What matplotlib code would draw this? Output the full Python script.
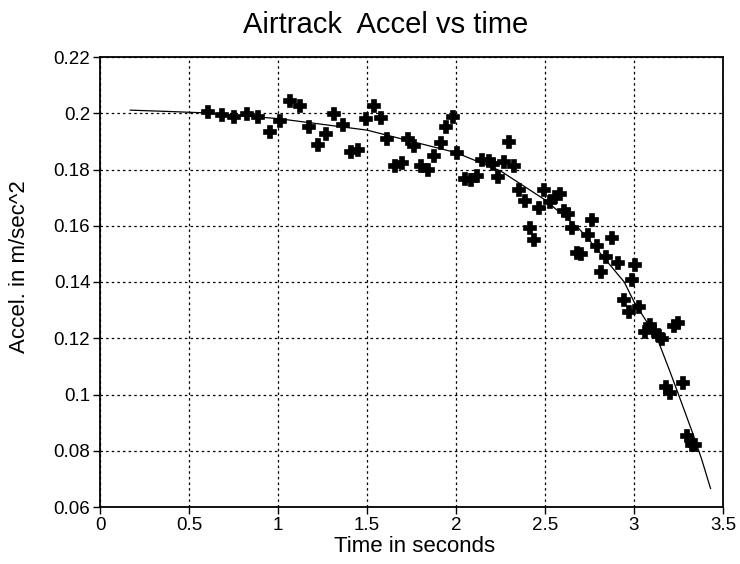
import matplotlib
matplotlib.use("Agg")
import matplotlib.pyplot as plt
from matplotlib.ticker import FixedLocator, FixedFormatter

plt.rcParams['font.family'] = ['Liberation Sans', 'DejaVu Sans']

# Measured data (time in s, acceleration in m/s^2)
time_s = [0.607, 0.687, 0.753, 0.825, 0.889, 0.953, 1.009, 1.069, 1.121, 1.172,
          1.224, 1.269, 1.317, 1.367, 1.408, 1.452, 1.494, 1.539, 1.578, 1.614,
          1.660, 1.695, 1.732, 1.765, 1.803, 1.840, 1.875, 1.915, 1.944, 1.985,
          2.007, 2.051, 2.086, 2.117, 2.147, 2.183, 2.210, 2.238, 2.269, 2.295,
          2.327, 2.353, 2.386, 2.417, 2.438, 2.465, 2.497, 2.529, 2.557, 2.585,
          2.604, 2.632, 2.654, 2.680, 2.700, 2.739, 2.764, 2.792, 2.814, 2.843,
          2.876, 2.911, 2.942, 2.970, 2.987, 3.007, 3.029, 3.064, 3.090, 3.113,
          3.138, 3.157, 3.226, 3.246, 3.179, 3.204, 3.276, 3.296, 3.328, 3.345]
accel = [0.2006, 0.1993, 0.1986, 0.1998, 0.1985, 0.1933, 0.1974, 0.2045, 0.2026, 0.1952,
         0.1887, 0.1928, 0.1999, 0.1957, 0.1864, 0.1868, 0.1980, 0.2027, 0.1984, 0.1909,
         0.1812, 0.1823, 0.1907, 0.1882, 0.1811, 0.1799, 0.1849, 0.1896, 0.1950, 0.1986,
         0.1858, 0.1765, 0.1762, 0.1776, 0.1833, 0.1830, 0.1820, 0.1775, 0.1825, 0.1899,
         0.1813, 0.1728, 0.1687, 0.1591, 0.1549, 0.1664, 0.1728, 0.1683, 0.1701, 0.1712,
         0.1654, 0.1643, 0.1591, 0.1503, 0.1500, 0.1568, 0.1621, 0.1528, 0.1436, 0.1490,
         0.1556, 0.1469, 0.1335, 0.1293, 0.1407, 0.1461, 0.1312, 0.1222, 0.1246, 0.1227,
         0.1208, 0.1198, 0.1244, 0.1254, 0.1027, 0.1007, 0.1041, 0.0852, 0.0819, 0.0822]

# Fitted curve
fit_t = [0.17, 0.40, 0.60, 1.00, 1.50, 2.00, 2.25, 2.50, 2.69, 2.75,
         2.945, 3.00, 3.13, 3.20, 3.25, 3.33, 3.38, 3.43]
fit_a = [0.2011, 0.2006, 0.2001, 0.1981, 0.1940, 0.1860, 0.1795, 0.1692, 0.1590, 0.1548,
         0.1400, 0.1330, 0.1200, 0.1085, 0.1000, 0.0862, 0.0770, 0.0666]

x_ticks = [0, 0.5, 1, 1.5, 2, 2.5, 3, 3.5]
x_labels = ['0', '0.5', '1', '1.5', '2', '2.5', '3', '3.5']
y_ticks = [0.06, 0.08, 0.1, 0.12, 0.14, 0.16, 0.18, 0.2, 0.22]
y_labels = ['0.06', '0.08', '0.1', '0.12', '0.14', '0.16', '0.18', '0.2', '0.22']

fig = plt.figure(figsize=(7.4, 5.64), dpi=100)
ax = fig.add_axes([100/740, 1-507/564, 623/740, 450/564])

ax.plot(fit_t, fit_a, color='black', lw=0.9, zorder=3)
ax.plot(time_s, accel, linestyle='none', marker='P', markersize=8.5,
        color='black', markeredgecolor='black', markeredgewidth=1.2, zorder=4)

ax.set_xlim(0, 3.5)
ax.set_ylim(0.06, 0.22)
ax.xaxis.set_major_locator(FixedLocator(x_ticks))
ax.xaxis.set_major_formatter(FixedFormatter(x_labels))
ax.yaxis.set_major_locator(FixedLocator(y_ticks))
ax.yaxis.set_major_formatter(FixedFormatter(y_labels))

ax.grid(True, color='black', linestyle=(0, (2, 2.5)), linewidth=0.9)
ax.set_axisbelow(True)
for s in ax.spines.values():
    s.set_linewidth(1.3)
    s.set_color('black')
ax.tick_params(direction='out', length=5, width=1, labelsize=13.5, pad=2, colors='black')

fig.text(386/740, 1-25/564, 'Airtrack  Accel vs time', ha='center', va='center', fontsize=21)
fig.text(415/740, 1-547/564, 'Time in seconds', ha='center', va='center', fontsize=16)
fig.text(20/740, 1-267/564, 'Accel. in m/sec^2', ha='center', va='center', rotation=90, fontsize=16)

fig.savefig('out.png', dpi=100)
